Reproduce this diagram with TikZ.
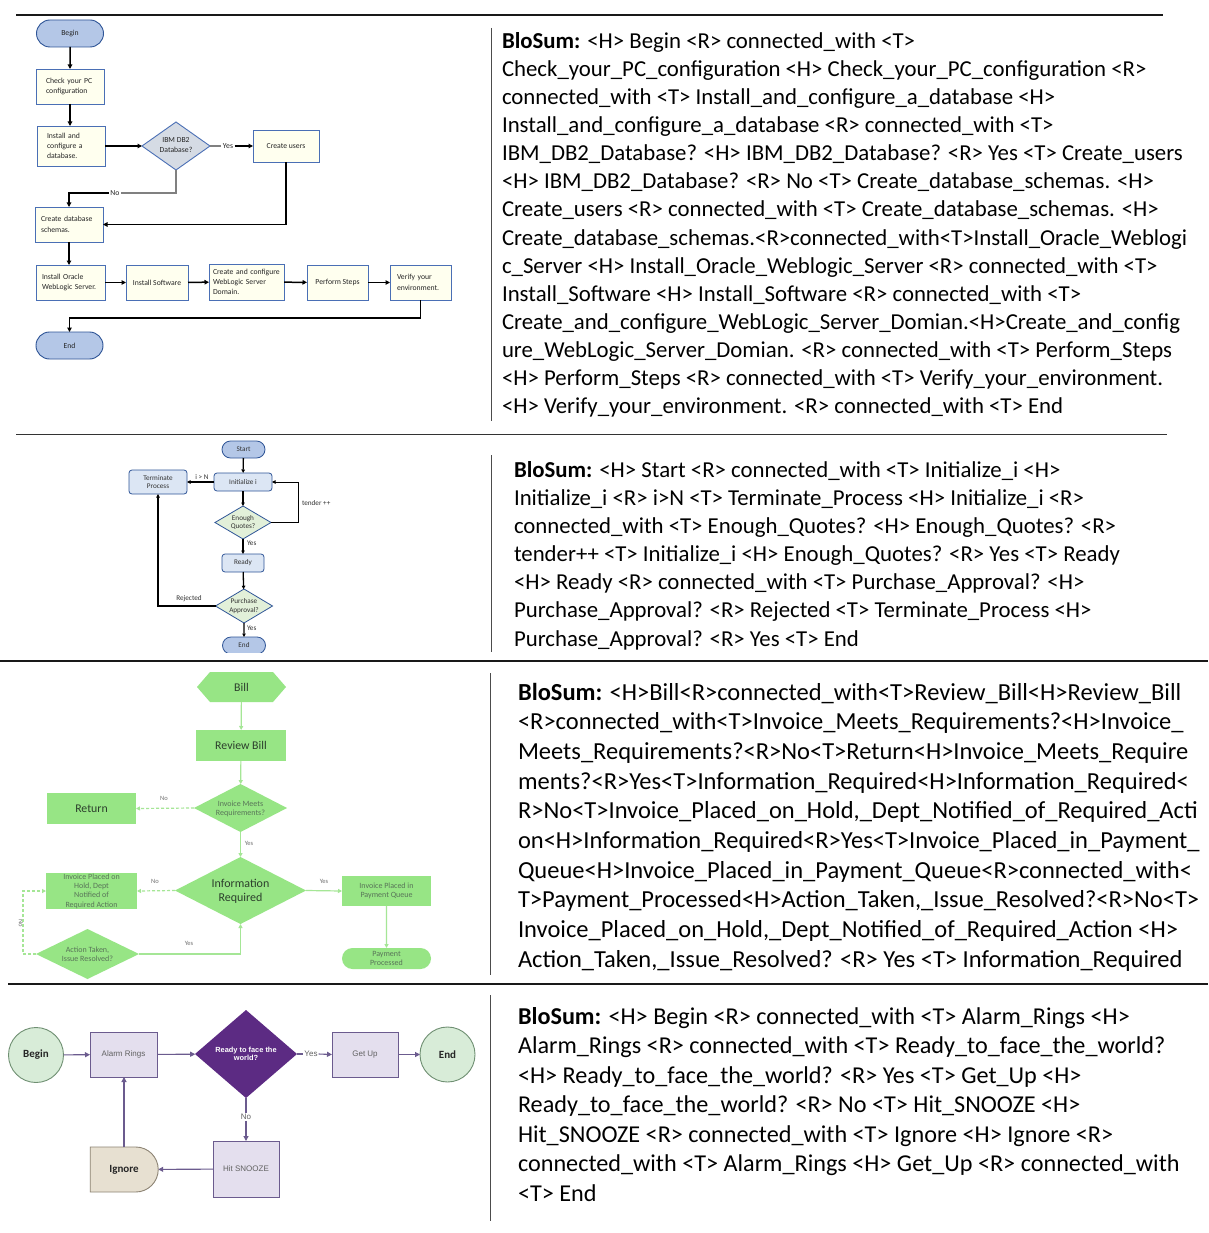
\documentclass[tikz,border=0pt]{standalone}
\usepackage{fontspec}
\setmainfont{Carlito}
\newfontfamily\arialfont{Liberation Sans}
\usetikzlibrary{arrows.meta,shapes.geometric,shapes.misc}

% palette
\definecolor{pillblue}{HTML}{B4C7E7}
\definecolor{edgeblue}{HTML}{2F5597}
\definecolor{boxblue}{HTML}{4A6FB5}
\definecolor{ivory}{HTML}{FFFFEF}
\definecolor{dmgray}{HTML}{D5DBE4}
\definecolor{paleblue}{HTML}{DCE6F4}
\definecolor{palegreen}{HTML}{E2F0D9}
\definecolor{leaf}{HTML}{97E585}
\definecolor{leafline}{HTML}{A5E696}
\definecolor{leaftext}{HTML}{2C3F2C}
\definecolor{leafsmall}{HTML}{587458}
\definecolor{mint}{HTML}{D8ECD8}
\definecolor{mintedge}{HTML}{6F8F72}
\definecolor{lilac}{HTML}{E4DFEE}
\definecolor{plum}{HTML}{6B5B8E}
\definecolor{grape}{HTML}{5C2B83}
\definecolor{sand}{HTML}{E7E0D1}
\definecolor{sandedge}{HTML}{8D8474}

\tikzset{
  % summary text
  sumA/.style={anchor=base west, font=\fontsize{22.8}{27}\selectfont},
  sumB/.style={anchor=base west, font=\fontsize{24.2}{29}\selectfont},
  sumC/.style={anchor=base west, font=\fontsize{24.5}{29}\selectfont},
  rulethick/.style={line width=2.2pt, black!90},
  rulethin/.style={line width=1.2pt, black!80},
  divider/.style={line width=0.9pt, black!70},
  % install chart
  fa/.style={font=\fontsize{7.7}{10.3}\selectfont, text=black!85},
  pillA/.style={rounded rectangle, draw=edgeblue, fill=pillblue, line width=0.9pt, minimum width=67pt, minimum height=27pt, fa},
  boxA/.style={rectangle, draw=boxblue, fill=ivory, line width=0.9pt, fa, align=left, minimum height=35pt},
  dmA/.style={diamond, draw=boxblue, fill=dmgray, line width=0.9pt},
  lnA/.style={line width=1.5pt},
  arA/.style={line width=1.5pt, -{Triangle[length=4.5pt,width=4.5pt]}},
  lblA/.style={fa, fill=white, inner xsep=1.5pt},
  % tender chart
  fb/.style={font=\fontsize{7.2}{8.5}\selectfont, text=black!80},
  pillB/.style={rounded rectangle, draw=edgeblue, fill=pillblue, line width=0.8pt, fb, minimum width=43pt, minimum height=17pt},
  boxB/.style={rectangle, rounded corners=3pt, draw=edgeblue, fill=paleblue, line width=0.8pt, fb, align=center},
  dmB/.style={diamond, draw=edgeblue, fill=palegreen, line width=0.8pt},
  arB/.style={line width=1.3pt, -{Triangle[length=3.5pt,width=3.5pt]}},
  % bill chart
  fc/.style={font=\fontsize{11.8}{14}\selectfont, text=leaftext},
  fcs/.style={font=\fontsize{8}{9.3}\selectfont, text=leafsmall},
  fcl/.style={font=\fontsize{6.5}{8}\selectfont, text=black!55},
  boxC/.style={rectangle, fill=leaf, fc},
  dmC/.style={diamond, fill=leaf},
  arC/.style={draw=leafline, line width=1.2pt, -{Triangle[length=4pt,width=4pt]}},
  dashC/.style={arC, dash pattern=on 3pt off 2pt},
  % alarm chart
  fd/.style={font=\arialfont\fontsize{8}{9.5}\selectfont, text=black!62},
  termD/.style={circle, draw=mintedge, fill=mint, line width=0.9pt, minimum size=55pt, font=\bfseries\fontsize{11}{13}\selectfont, text=black!85},
  boxD/.style={rectangle, draw=plum, fill=lilac, line width=0.9pt, fd},
  arD/.style={draw=plum, line width=1.1pt, -{Triangle[length=5pt,width=5pt]}},
  lnD/.style={draw=plum, line width=1.1pt},
}

\begin{document}
\begin{tikzpicture}[x=1pt, y=-1pt, every node/.style={inner sep=0pt, outer sep=0pt}]
\useasboundingbox (0,0) rectangle (1208,1233);
\fill[white] (0,0) rectangle (1208,1233);

% ---------- horizontal rules and column dividers ----------
\draw[rulethick] (16,15) -- (1163,15);
\draw[rulethin] (16,434.5) -- (1167,434.5);
\draw[rulethick] (0,661) -- (1208,661);
\draw[rulethick] (8,984) -- (1208,984);
\draw[divider] (491,28) -- (491,421);
\draw[divider] (491,455) -- (491,652);
\draw[divider] (490,673) -- (490,975);
\draw[divider] (490,995) -- (490,1221);

% ---------- install chart ----------
\node[pillA] (beginA) at (70,33.5) {Begin};
\node[boxA, text width=48pt, inner xsep=10pt] (checkA) at (70,86.5) {Check your PC\\configuration};
\node[boxA, text width=48pt, inner xsep=10pt, minimum height=40pt] (instA) at (71,146) {Install and\\configure a\\database.};
\node[dmA, minimum width=68pt, minimum height=48pt] (ibmA) at (176,146) {};
\node[fa, align=center] (ibmAt) at (176,145) {IBM DB2\\Database?};
\node[boxA, minimum width=66pt, minimum height=32pt, align=center] (usersA) at (286,146) {Create users};
\node[boxA, text width=56pt, inner xsep=6pt] (schA) at (69,224.5) {Create database\\schemas.};
\node[boxA, text width=57pt, inner xsep=6pt] (oraA) at (70.5,282.5) {Install Oracle\\WebLogic Server.};
\node[boxA, minimum width=62pt, align=center] (swA) at (157,282.5) {Install Software};
\node[boxA, text width=67pt, inner xsep=4pt, minimum height=36pt, font=\fontsize{7.7}{9.7}\selectfont] (domA) at (246.5,282) {Create and configure\\WebLogic Server\\Domain.};
\node[boxA, minimum width=61pt, align=center] (stepsA) at (337.5,282.5) {Perform Steps};
\node[boxA, text width=47pt, inner xsep=7pt] (verA) at (420.5,282.5) {Verify your\\environment.};
\node[pillA] (endA) at (69.5,345.5) {End};
\node[lblA] (yesA) at (228,146) {Yes};
\node[lblA] (noA) at (115,193) {No};

\draw[arA] (beginA) -- (checkA);
\draw[arA] (checkA.south) -- (checkA.south |- instA.north);
\draw[arA] (instA) -- (ibmA);
\draw[lnA, black!50] (ibmA.east) -- (yesA.west);
\draw[arA] (yesA.east) -- (usersA.west);
\draw[lnA, black!50] (ibmA.south) |- (noA.east);
\draw[arA] (noA.west) -| (schA.north);
\draw[arA] (usersA.south) |- (schA.east);
\draw[arA] (schA.south) -- (schA.south |- oraA.north);
\draw[arA] (oraA) -- (swA);
\draw[arA] (swA) -- (domA);
\draw[arA] (domA) -- (stepsA);
\draw[arA] (stepsA) -- (verA);
\draw[arA, line width=1.1pt] (verA.south) -- ++(0,18) -| (endA.north);

% ---------- tender chart ----------
\begin{scope}
\clip (100,436) rectangle (360,652);
\node[pillB] (startB) at (243.5,449.5) {Start};
\node[boxB, minimum width=58pt, minimum height=18pt] (initB) at (243,482) {Initialize i};
\node[boxB, minimum width=58pt, minimum height=24pt] (termB) at (158,482) {Terminate\\Process};
\node[dmB, minimum width=56pt, minimum height=33pt] (enoughB) at (243,522.5) {};
\node[fb, align=center] (enoughBt) at (243,522.5) {Enough\\Quotes?};
\node[boxB, minimum width=42pt, minimum height=18pt] (readyB) at (243,563) {Ready};
\node[dmB, minimum width=57pt, minimum height=34pt] (purchB) at (244,606) {};
\node[fb, align=center] (purchBt) at (244,606) {Purchase\\Approval?};
\node[pillB] (endB) at (244,645.5) {End};
\node[fb] (inB) at (202,477) {i > N};
\node[fb, anchor=west] (tenderB) at (302,503) {tender ++};
\node[fb, anchor=west] (yes1B) at (247,543) {Yes};
\node[fb] (rejB) at (189,599) {Rejected};
\node[fb, anchor=west] (yes2B) at (247,628) {Yes};

\draw[arB] (startB) -- (initB);
\draw[arB] (initB) -- (termB);
\draw[arB] (initB) -- (enoughB);
\draw[arB, line width=0.9pt] (enoughB.east) -- ++(27,0) |- (initB.east);
\draw[arB] (enoughB) -- (readyB);
\draw[arB] (readyB) -- (purchB);
\draw[arB] (purchB.west) -| (termB.south);
\draw[arB] (purchB) -- (endB);
\end{scope}

% ---------- bill chart ----------
\fill[leaf] (197,687) -- (210,672) -- (273,672) -- (286,687) -- (273,702) -- (210,702) -- cycle;
\node[fc, minimum width=89pt, minimum height=30pt] (billC) at (241.5,687) {Bill};
\node[boxC, minimum width=90pt, minimum height=31pt] (reviewC) at (241,745.5) {Review Bill};
\node[dmC, minimum width=93pt, minimum height=48pt] (meetsC) at (240.5,808) {};
\node[fcs, align=center] (meetsCt) at (240.5,809) {Invoice Meets\\Requirements?};
\node[boxC, minimum width=89pt, minimum height=31pt] (returnC) at (91.5,808.5) {Return};
\node[dmC, minimum width=131pt, minimum height=67pt] (infoC) at (240.5,890.5) {};
\node[fc, align=center, font=\fontsize{12}{14}\selectfont] (infoCt) at (240.5,891) {Information\\Required};
\node[boxC, fcs, minimum width=91pt, minimum height=36pt, align=center] (holdC) at (91.5,891) {Invoice Placed on\\Hold, Dept\\Notified of\\Required Action};
\node[boxC, fcs, minimum width=89pt, minimum height=30pt, align=center] (queueC) at (386.5,891) {Invoice Placed in\\Payment Queue};
\node[rounded rectangle, fill=leaf, fcs, minimum width=89pt, minimum height=21pt, align=center] (paidC) at (386.5,958.5) {Payment\\Processed};
\node[dmC, minimum width=103pt, minimum height=50pt] (actC) at (87.5,954) {};
\node[fcs, align=center] (actCt) at (87.5,954) {Action Taken,\\Issue Resolved?};
\node[fcl] (noC1) at (164,798) {No};
\node[fcl] (yesC1) at (249,843) {Yes};
\node[fcl] (noC2) at (155,881) {No};
\node[fcl] (yesC2) at (324,881) {Yes};
\node[fcl] (yesC3) at (189,943) {Yes};
\node[fcl, rotate=-90] (noC3) at (21,923) {No};

\draw[arC] (billC) -- (reviewC);
\draw[arC] (reviewC) -- (meetsC);
\draw[dashC] (meetsC.west) -- (returnC.east);
\draw[arC] (meetsC) -- (infoC);
\draw[dashC] (infoC.west) -- (holdC.east);
\draw[arC] (infoC.east) -- (queueC.west);
\draw[arC] (queueC) -- (paidC);
\draw[arC] (actC.east) -| (infoC.south);
\draw[dashC] (actC.west) -- ++(-13,0) |- (holdC.west);

% ---------- alarm chart ----------
\node[termD] (beginD) at (36,1055) {Begin};
\node[boxD, minimum width=67pt, minimum height=45pt] (alarmD) at (123.5,1054.5) {Alarm Rings};
\node[diamond, fill=grape, minimum width=102pt, minimum height=88pt] (readyD) at (246,1054) {};
\node[font=\arialfont\bfseries\fontsize{7.4}{8.6}\selectfont, text=white, align=center] (readyDt) at (246,1054) {Ready to face the\\world?};
\node[boxD, minimum width=66pt, minimum height=45pt] (getD) at (365,1054.5) {Get Up};
\node[termD] (endD) at (447.5,1054.5) {End};
\node[boxD, minimum width=66pt, minimum height=56pt] (snoozeD) at (246,1169) {Hit SNOOZE};
\node[rounded rectangle, rounded rectangle west arc=none, draw=sandedge, fill=sand, line width=0.9pt, minimum width=68pt, minimum height=45pt, font=\bfseries\fontsize{11}{13}\selectfont, text=black!85] (ignoreD) at (124,1169.5) {Ignore};
\node[fd, fill=white, inner xsep=1pt] (yesD) at (311,1054) {Yes};
\node[fd, fill=white, inner ysep=1pt] (noD) at (246,1117) {No};

\draw[arD] (beginD) -- (alarmD);
\draw[arD] (alarmD) -- (readyD);
\draw[lnD] (readyD.east) -- (yesD.west);
\draw[arD] (yesD.east) -- (getD.west);
\draw[arD] (getD) -- (endD);
\draw[lnD] (readyD.south) -- (noD.north);
\draw[arD] (noD.south) -- (snoozeD.north);
\draw[arD] (snoozeD) -- (ignoreD);
\draw[arD] (ignoreD.north) -- (ignoreD.north |- alarmD.south);

% ---------- summaries ----------
\node[sumA] (t1a) at (502,49) {\textbf{BloSum:} <H> Begin <R> connected\_with <T>};
\node[sumA] (t1b) at (502,77) {Check\_your\_PC\_configuration <H> Check\_your\_PC\_configuration <R>};
\node[sumA] (t1c) at (502,105) {connected\_with <T> Install\_and\_configure\_a\_database <H>};
\node[sumA] (t1d) at (502,133) {Install\_and\_configure\_a\_database <R> connected\_with <T>};
\node[sumA] (t1e) at (502,161) {IBM\_DB2\_Database? <H> IBM\_DB2\_Database? <R> Yes <T> Create\_users};
\node[sumA] (t1f) at (502,189) {<H> IBM\_DB2\_Database? <R> No <T> Create\_database\_schemas. <H>};
\node[sumA] (t1g) at (502,217) {Create\_users <R> connected\_with <T> Create\_database\_schemas. <H>};
\node[sumA] (t1h) at (502,245) {Create\_database\_schemas.<R>connected\_with<T>Install\_Oracle\_Weblogi};
\node[sumA] (t1i) at (502,273) {c\_Server <H> Install\_Oracle\_Weblogic\_Server <R> connected\_with <T>};
\node[sumA] (t1j) at (502,301) {Install\_Software <H> Install\_Software <R> connected\_with <T>};
\node[sumA] (t1k) at (502,329) {Create\_and\_configure\_WebLogic\_Server\_Domian.<H>Create\_and\_config};
\node[sumA] (t1l) at (502,357) {ure\_WebLogic\_Server\_Domian. <R> connected\_with <T> Perform\_Steps};
\node[sumA] (t1m) at (502,385) {<H> Perform\_Steps <R> connected\_with <T> Verify\_your\_environment.};
\node[sumA] (t1n) at (502,413) {<H> Verify\_your\_environment. <R> connected\_with <T> End};

\node[sumA] (t2a) at (514,477) {\textbf{BloSum:} <H> Start <R> connected\_with <T> Initialize\_i <H>};
\node[sumA] (t2b) at (514,505.2) {Initialize\_i <R> i>N <T> Terminate\_Process <H> Initialize\_i <R>};
\node[sumA] (t2c) at (514,533.3) {connected\_with <T> Enough\_Quotes? <H> Enough\_Quotes? <R>};
\node[sumA] (t2d) at (514,561.5) {tender++ <T> Initialize\_i <H> Enough\_Quotes? <R> Yes <T> Ready};
\node[sumA] (t2e) at (514,589.7) {<H> Ready <R> connected\_with <T> Purchase\_Approval? <H>};
\node[sumA] (t2f) at (514,617.8) {Purchase\_Approval? <R> Rejected <T> Terminate\_Process <H>};
\node[sumA] (t2g) at (514,646) {Purchase\_Approval? <R> Yes <T> End};

\node[sumC] (t3a) at (518,700) {\textbf{BloSum:} <H>Bill<R>connected\_with<T>Review\_Bill<H>Review\_Bill};
\node[sumC] (t3b) at (518,729.7) {<R>connected\_with<T>Invoice\_Meets\_Requirements?<H>Invoice\_};
\node[sumC] (t3c) at (518,759.3) {Meets\_Requirements?<R>No<T>Return<H>Invoice\_Meets\_Require};
\node[sumC] (t3d) at (518,789) {ments?<R>Yes<T>Information\_Required<H>Information\_Required<};
\node[sumC] (t3e) at (518,818.7) {R>No<T>Invoice\_Placed\_on\_Hold,\_Dept\_Notified\_of\_Required\_Acti};
\node[sumC] (t3f) at (518,848.3) {on<H>Information\_Required<R>Yes<T>Invoice\_Placed\_in\_Payment\_};
\node[sumC] (t3g) at (518,878) {Queue<H>Invoice\_Placed\_in\_Payment\_Queue<R>connected\_with<};
\node[sumC] (t3h) at (518,907.7) {T>Payment\_Processed<H>Action\_Taken,\_Issue\_Resolved?<R>No<T>};
\node[sumC] (t3i) at (518,937.3) {Invoice\_Placed\_on\_Hold,\_Dept\_Notified\_of\_Required\_Action <H>};
\node[sumC] (t3j) at (518,967) {Action\_Taken,\_Issue\_Resolved? <R> Yes <T> Information\_Required};

\node[sumB] (t4a) at (518,1024) {\textbf{BloSum:} <H> Begin <R> connected\_with <T> Alarm\_Rings <H>};
\node[sumB] (t4b) at (518,1053.5) {Alarm\_Rings <R> connected\_with <T> Ready\_to\_face\_the\_world?};
\node[sumB] (t4c) at (518,1083) {<H> Ready\_to\_face\_the\_world? <R> Yes <T> Get\_Up <H>};
\node[sumB] (t4d) at (518,1112.5) {Ready\_to\_face\_the\_world? <R> No <T> Hit\_SNOOZE <H>};
\node[sumB] (t4e) at (518,1142) {Hit\_SNOOZE <R> connected\_with <T> Ignore <H> Ignore <R>};
\node[sumB] (t4f) at (518,1171.5) {connected\_with <T> Alarm\_Rings <H> Get\_Up <R> connected\_with};
\node[sumB] (t4g) at (518,1201) {<T> End};
\end{tikzpicture}
\end{document}
